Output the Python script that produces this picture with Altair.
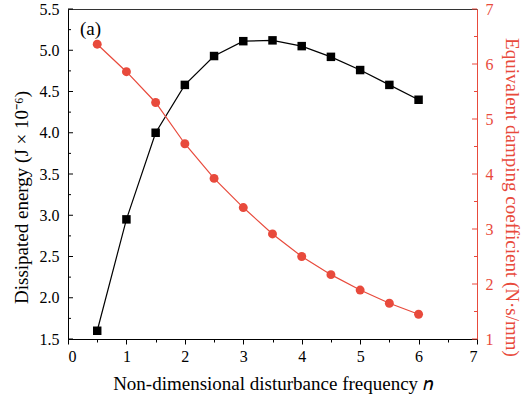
import altair as alt
import pandas as pd

n_values = [0.5, 1.0, 1.5, 2.0, 2.5, 3.0, 3.5, 4.0, 4.5, 5.0, 5.5, 6.0]
energy = [1.60, 2.95, 4.00, 4.58, 4.93, 5.11, 5.12, 5.05, 4.92, 4.76, 4.58, 4.40]
damping = [6.36, 5.86, 5.30, 4.55, 3.92, 3.39, 2.91, 2.50, 2.17, 1.89, 1.65, 1.45]

x_ticks = [i * 0.5 for i in range(15)]
left_major = [1.5 + i * 0.5 for i in range(9)]
left_minor = [1.75 + i * 0.5 for i in range(8)]
right_major = [1, 2, 3, 4, 5, 6, 7]
right_minor = [1.5, 2.5, 3.5, 4.5, 5.5, 6.5]

df = pd.DataFrame({"n": n_values, "energy": energy, "damping": damping})

RED = "#E84A3C"
FONT = "Liberation Serif"
W, H = 409, 330

x_enc = alt.X(
    "n:Q",
    scale=alt.Scale(domain=[0, 7], nice=False),
    axis=alt.Axis(
        values=x_ticks,
        labelExpr="datum.value % 1 == 0 ? format(datum.value, 'd') : ''",
        tickSize={"condition": {"test": "datum.value % 1 == 0", "value": 5}, "value": 3},
        tickColor="black",
        domainColor="black",
        labelColor="black",
        labelPadding=4,
        grid=False,
        title="Non-dimensional disturbance frequency 𝑛",
        titleColor="black",
        titlePadding=10,
    ),
)

left_axis = alt.Axis(
    orient="left",
    values=left_major,
    format=".1f",
    ticks=False,
    labelPadding=9,
    labelColor="black",
    domainColor="black",
    grid=False,
    title="Dissipated energy (J × 10⁻⁶)",
    titleColor="black",
    titlePadding=8,
    titleY=188,
)
left_scale = alt.Scale(domain=[1.5, 5.5], nice=False, zero=False)

right_axis = alt.Axis(
    orient="right",
    values=right_major,
    ticks=False,
    labelPadding=8,
    labelColor=RED,
    domainColor=RED,
    grid=False,
    title="Equivalent damping coefficient (N·s/mm)",
    titleColor=RED,
    titlePadding=8,
    titleY=188,
)
right_scale = alt.Scale(domain=[1, 7], nice=False, zero=False)

black_line = alt.Chart(df).mark_line(
    color="black", strokeWidth=1.2,
    point=alt.OverlayMarkDef(shape="square", size=72, filled=True, color="black", opacity=1),
).encode(
    x=x_enc,
    y=alt.Y("energy:Q", scale=left_scale, axis=left_axis),
)

red_line = alt.Chart(df).mark_line(
    color=RED, strokeWidth=1.2,
    point=alt.OverlayMarkDef(shape="circle", size=80, filled=True, color=RED, opacity=1),
).encode(
    x=x_enc,
    y=alt.Y("damping:Q", scale=right_scale, axis=right_axis),
)


def rules(values, x0, x1, color, scale, axis):
    return alt.Chart(pd.DataFrame({"v": values})).mark_rule(color=color, strokeWidth=1).encode(
        y=alt.Y("v:Q", scale=scale, axis=axis),
        x=alt.value(x0),
        x2=alt.value(x1),
    )


left = alt.layer(
    black_line,
    rules(left_major, 0, 5, "black", left_scale, left_axis),
    rules(left_minor, 0, 3, "black", left_scale, left_axis),
)
right = alt.layer(
    red_line,
    rules(right_major, W, W - 5, RED, right_scale, right_axis),
    rules(right_minor, W, W - 3, RED, right_scale, right_axis),
)

label_a = alt.Chart(pd.DataFrame({"t": ["(a)"]})).mark_text(
    fontSize=19, color="black", align="left", baseline="middle"
).encode(text="t:N", x=alt.value(12), y=alt.value(20))

chart = alt.layer(left, right, label_a).resolve_scale(y="independent").properties(
    width=W, height=H,
    autosize=alt.AutoSizeParams(type="none"),
    padding={"left": 68, "top": 9, "right": 47, "bottom": 64},
).configure(
    background="white", font=FONT
).configure_axis(
    labelFont=FONT, titleFont=FONT, labelFontSize=16, titleFontSize=19, titleFontWeight="normal"
).configure_text(
    font=FONT
).configure_view(stroke="#333", strokeWidth=1)

chart.save("out.html", embed_options={"renderer": "svg", "actions": False})
